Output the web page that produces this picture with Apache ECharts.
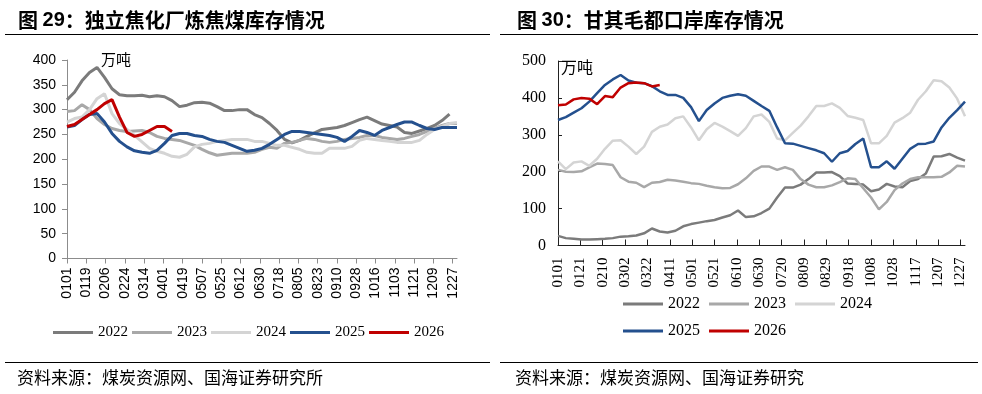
<!DOCTYPE html>
<html><head><meta charset="utf-8">
<script src="https://cdn.jsdelivr.net/npm/echarts@6/dist/echarts.min.js"></script>
<style>html,body{margin:0;padding:0;background:#fff}#c{width:982px;height:394px}</style>
</head><body><div id="c"></div>
<script>
// tick labels
const leftTicks = ['0101','0119','0206','0224','0314','0401','0419','0507','0525','0612','0630','0718','0805','0823','0910','0928','1016','1103','1121','1209','1227'];
const rightTicks = ['0101','0121','0210','0302','0322','0411','0501','0521','0610','0630','0720','0809','0829','0918','1008','1028','1117','1207','1227'];
// categories: calendar days MMDD
const monthLen = [31,28,31,30,31,30,31,31,30,31,30,31];
const days = [];
monthLen.forEach((n, m) => { for (let d = 1; d <= n; d++) days.push(String(m + 1).padStart(2, '0') + String(d).padStart(2, '0')); });

// weekly values, 万吨 — left: 独立焦化厂炼焦煤库存
const left2022 = [320,335,358,375,385,365,342,330,328,328,329,326,328,326,318,306,309,314,315,313,306,298,298,300,300,290,284,272,258,240,233,238,246,253,260,262,264,268,274,280,285,278,271,268,265,254,252,257,262,268,278,291];
const left2023 = [296,298,310,300,282,270,262,258,256,257,258,254,246,242,240,238,233,228,220,213,208,210,212,212,212,214,220,224,222,232,234,238,242,240,236,234,236,240,242,244,248,248,244,242,240,242,246,250,256,262,268,272,272];
const left2024 = [275,282,285,300,322,332,292,272,260,248,235,222,216,212,206,204,210,225,230,232,236,238,240,240,240,236,236,232,228,228,224,220,214,212,212,222,222,222,226,238,242,240,238,236,234,234,234,238,250,260,266,272,274];
const left2025 = [265,268,280,290,292,275,252,236,225,217,214,212,218,232,248,252,252,248,246,240,236,234,228,222,216,218,222,230,240,250,256,256,254,252,250,248,244,236,246,258,254,248,258,264,270,275,275,268,262,260,264,264,264];
const left2026 = [266,270,280,290,300,312,320,285,254,246,250,258,266,266,256];

// right: 甘其毛都口岸库存
const right2022 = [26,20,18,16,16,17,18,20,24,25,27,33,46,38,35,40,52,58,62,66,69,76,82,95,77,79,88,100,130,157,157,165,180,198,198,199,188,168,167,165,147,152,167,160,158,175,180,195,241,242,248,238,230];
const right2023 = [205,200,199,201,212,222,221,218,185,173,170,158,170,172,178,176,173,169,167,162,158,155,156,166,182,202,214,214,205,212,205,180,165,158,158,163,172,182,180,155,130,98,118,150,168,180,185,185,185,186,198,216,214];
const right2024 = [228,207,225,228,216,235,262,284,285,268,248,268,308,322,328,345,350,320,285,315,332,322,310,297,318,350,355,335,290,285,305,325,350,378,378,385,373,351,346,340,277,277,297,333,345,360,395,418,448,445,428,398,350];
const right2025 = [340,348,360,372,390,413,435,450,462,447,441,440,432,418,408,408,400,375,337,367,385,400,406,410,406,392,378,365,320,277,276,270,264,258,250,227,250,256,275,290,212,212,228,208,235,262,275,276,282,320,346,367,390];
const right2026 = [380,382,396,400,398,383,405,402,428,440,442,440,431,435];

const years = ['2022','2023','2024','2025','2026'];
const colors = {'2022':'#7b7b7b','2023':'#a8a8a8','2024':'#d4d4d4','2025':'#24508e','2026':'#c00000'};

function mk(name, arr, idx, w) {
  return {
    name, type: 'line', xAxisIndex: idx, yAxisIndex: idx,
    symbol: 'none', showSymbol: false, animation: false,
    lineStyle: { width: w, color: colors[name] }, itemStyle: { color: colors[name] },
    data: arr.map((v, i) => [i * 7, v])
  };
}

const chart = echarts.init(document.getElementById('c'));
const sans = 'Liberation Sans', serif = 'Liberation Serif', cjk = 'Noto Sans CJK SC';
chart.setOption({
  animation: false,
  backgroundColor: '#fff',
  grid: [
    { left: 67, top: 60, width: 390, height: 198.5 },
    { left: 558, top: 61, width: 407, height: 184.5 }
  ],
  xAxis: [
    { type: 'category', gridIndex: 0, data: days, boundaryGap: false,
      axisLine: { lineStyle: { color: '#8c8c8c' } },
      axisTick: { interval: (i, v) => leftTicks.includes(v), length: 5, lineStyle: { color: '#8c8c8c' } },
      axisLabel: { interval: (i, v) => leftTicks.includes(v), rotate: 90, margin: 9, fontFamily: sans, fontSize: 14, color: '#000' } },
    { type: 'category', gridIndex: 1, data: days, boundaryGap: false,
      axisLine: { lineStyle: { color: '#222' } },
      axisTick: { interval: (i, v) => rightTicks.includes(v), inside: true, length: 6, lineStyle: { color: '#222' } },
      axisLabel: { interval: (i, v) => rightTicks.includes(v), rotate: 90, margin: 12, fontFamily: serif, fontSize: 15, color: '#000' } }
  ],
  yAxis: [
    { type: 'value', gridIndex: 0, min: 0, max: 400, interval: 50,
      axisLine: { show: true, lineStyle: { color: '#8c8c8c' } },
      axisTick: { show: true, length: 5, lineStyle: { color: '#8c8c8c' } },
      splitLine: { show: false },
      axisLabel: { margin: 11, fontFamily: sans, fontSize: 14, color: '#000' } },
    { type: 'value', gridIndex: 1, min: 0, max: 500, interval: 100,
      axisLine: { show: true, lineStyle: { color: '#222' } },
      axisTick: { show: true, inside: true, length: 4, lineStyle: { color: '#222' } },
      splitLine: { show: false },
      axisLabel: { margin: 12, fontFamily: serif, fontSize: 16, color: '#000' } }
  ],
  legend: [
    { data: years, left: 48, top: 320, icon: 'rect', itemWidth: 40, itemHeight: 3, itemGap: 4,
      textStyle: { fontFamily: serif, fontSize: 15, color: '#000' }, selectedMode: false },
    { data: ['2022','2023','2024'], left: 618, top: 291, icon: 'rect', itemWidth: 40, itemHeight: 3, itemGap: 9,
      textStyle: { fontFamily: serif, fontSize: 16, color: '#000' }, selectedMode: false },
    { data: ['2025','2026'], left: 618, top: 318, icon: 'rect', itemWidth: 40, itemHeight: 3, itemGap: 9,
      textStyle: { fontFamily: serif, fontSize: 16, color: '#000' }, selectedMode: false }
  ],
  series: [
    mk('2022', left2022, 0, 3), mk('2023', left2023, 0, 3), mk('2024', left2024, 0, 3), mk('2025', left2025, 0, 3), mk('2026', left2026, 0, 3),
    mk('2022', right2022, 1, 2.5), mk('2023', right2023, 1, 2.5), mk('2024', right2024, 1, 2.5), mk('2025', right2025, 1, 2.5), mk('2026', right2026, 1, 2.5)
  ],
  graphic: [
    { type: 'text', x: 18, y: 20, style: { text: '{a|图 }{b|29}{a|：独立焦化厂炼焦煤库存情况}', verticalAlign: 'middle',
      rich: { a: { fontFamily: cjk, fontWeight: 'bold', fontSize: 20, fill: '#000' }, b: { fontFamily: sans, fontWeight: 'bold', fontSize: 20, fill: '#000' } } } },
    { type: 'text', x: 517, y: 20, style: { text: '{a|图 }{b|30}{a|：甘其毛都口岸库存情况}', verticalAlign: 'middle',
      rich: { a: { fontFamily: cjk, fontWeight: 'bold', fontSize: 20, fill: '#000' }, b: { fontFamily: sans, fontWeight: 'bold', fontSize: 20, fill: '#000' } } } },
    { type: 'line', shape: { x1: 5, y1: 34.5, x2: 490, y2: 34.5 }, style: { stroke: '#000', lineWidth: 1 } },
    { type: 'line', shape: { x1: 500, y1: 34.5, x2: 978, y2: 34.5 }, style: { stroke: '#000', lineWidth: 1 } },
    { type: 'line', shape: { x1: 5, y1: 362.5, x2: 490, y2: 362.5 }, style: { stroke: '#000', lineWidth: 1 } },
    { type: 'line', shape: { x1: 500, y1: 362.5, x2: 978, y2: 362.5 }, style: { stroke: '#000', lineWidth: 1 } },
    { type: 'text', x: 101, y: 59, style: { text: '万吨', fontFamily: cjk, fontSize: 15, fill: '#000', verticalAlign: 'middle' } },
    { type: 'text', x: 561, y: 67, style: { text: '万吨', fontFamily: cjk, fontSize: 16, fill: '#000', verticalAlign: 'middle' } },
    { type: 'text', x: 17, y: 378, style: { text: '资料来源：煤炭资源网、国海证券研究所', fontFamily: cjk, fontSize: 17, fill: '#000', verticalAlign: 'middle' } },
    { type: 'text', x: 515, y: 378, style: { text: '资料来源：煤炭资源网、国海证券研究', fontFamily: cjk, fontSize: 17, fill: '#000', verticalAlign: 'middle' } }
  ]
});
</script>
</body></html>
